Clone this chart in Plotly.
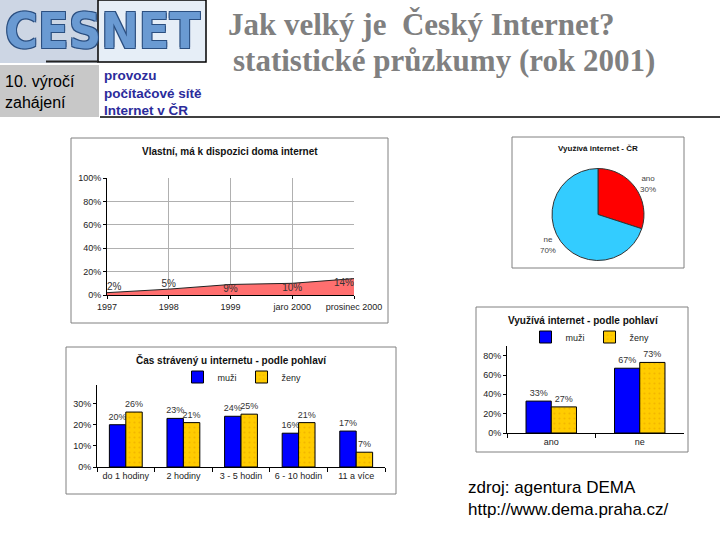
import plotly.graph_objects as go

W, H = 720, 540
def px(x): return x / W
def py(y): return 1 - y / H

# ---------------- data ----------------
own_years = ["1997", "1998", "1999", "jaro 2000", "prosinec 2000"]
own_values = [2, 5, 9, 10, 14]

pie_labels = ["ano", "ne"]
pie_values = [30, 70]

use_cats = ["ano", "ne"]
use_men = [33, 67]
use_women = [27, 73]

time_cats = ["do 1 hodiny", "2 hodiny", "3 - 5 hodin", "6 - 10 hodin", "11 a více"]
time_men = [20, 23, 24, 16, 17]
time_women = [26, 21, 25, 21, 7]

y_ticks_use = [0, 20, 40, 60, 80]
y_ticks_time = [0, 10, 20, 30]

BLUE = "#0000FF"
GOLD = "#FFCC00"
FONT = "Liberation Sans, Arial, sans-serif"

fig = go.Figure()

# ---------- chart 1: area ----------
fig.add_trace(go.Scatter(
    x=own_years, y=own_values, mode="lines", fill="tozeroy",
    fillcolor="#FF6F6F", line=dict(color="#222222", width=1),
    xaxis="x", yaxis="y", showlegend=False, hoverinfo="skip"))
fig.add_trace(go.Scatter(
    x=own_years, y=own_values, mode="text",
    text=[f"{v}%" for v in own_values],
    textposition=["top right", "top center", "bottom center", "bottom center", "bottom left"],
    textfont=dict(size=10, color="#333333", family=FONT),
    xaxis="x", yaxis="y", showlegend=False, cliponaxis=False, hoverinfo="skip"))

# ---------- chart 2: pie ----------
fig.add_trace(go.Pie(
    labels=pie_labels, values=pie_values, sort=False, direction="clockwise",
    rotation=0, marker=dict(colors=["#FF0000", "#33CCFF"], line=dict(color="#333333", width=1)),
    texttemplate="%{label}<br>%{percent:.0%}",
    textposition="outside", textfont=dict(size=8, color="#444444", family=FONT),
    domain=dict(x=[px(552), px(644)], y=[py(261), py(168)]), automargin=False,
    showlegend=False, hoverinfo="skip"))

def bars(x, y, name, color, xa, ya, leg):
    mk = dict(color=color, line=dict(color="#000", width=1))
    if color == GOLD:
        mk["pattern"] = dict(shape=".", fgcolor="#E8A000", size=5, solidity=0.15)
    return go.Bar(x=x, y=y, name=name, marker=mk,
                  text=[f"{v}%" for v in y], textposition="outside", cliponaxis=False,
                  constraintext="none",
                  textfont=dict(size=9, color="#333", family=FONT),
                  xaxis=xa, yaxis=ya, legend=leg, hoverinfo="skip")

fig.add_trace(bars(use_cats, use_men, "muži", BLUE, "x3", "y3", "legend2"))
fig.add_trace(bars(use_cats, use_women, "ženy", GOLD, "x3", "y3", "legend2"))
fig.add_trace(bars(time_cats, time_men, "muži", BLUE, "x4", "y4", "legend"))
fig.add_trace(bars(time_cats, time_women, "ženy", GOLD, "x4", "y4", "legend"))

tickf = dict(size=9, color="#222", family=FONT)
common = dict(automargin=False, tickangle=0, tickfont=tickf, tickcolor="#000", fixedrange=True)

layout = dict(
    width=W, height=H, margin=dict(l=0, r=0, t=0, b=0, pad=0), autosize=False,
    paper_bgcolor="white", plot_bgcolor="rgba(0,0,0,0)",
    font=dict(family=FONT), barmode="group",
    # chart 1
    xaxis=dict(domain=[px(107), px(354)], anchor="y", type="category", range=[0, 4],
               showgrid=True, gridcolor="#B0B0B0", gridwidth=1, showline=True, linecolor="#000",
               ticks="outside", ticklen=3, **common),
    yaxis=dict(domain=[py(295), py(178)], anchor="x", range=[0, 100], dtick=20, ticksuffix="%",
               showgrid=True, gridcolor="#B0B0B0", gridwidth=1, showline=True, linecolor="#000",
               ticks="outside", ticklen=3, zeroline=False, **common),
    # chart 3
    xaxis3=dict(domain=[px(507), px(684)], anchor="y3", type="category", showgrid=False,
                showline=True, linecolor="#000", ticks="outside", tickson="boundaries", ticklen=4,
                **common),
    yaxis3=dict(domain=[py(433), py(346)], anchor="x3", range=[0, 90], tickmode="array",
                tickvals=y_ticks_use, ticktext=[f"{v}%" for v in y_ticks_use],
                showgrid=False, showline=True, linecolor="#000", ticks="outside",
                ticklen=3, zeroline=False, **common),
    bargap=0.43, bargroupgap=0,
    # chart 4
    xaxis4=dict(domain=[px(97), px(385)], anchor="y4", type="category", showgrid=False,
                showline=True, linecolor="#000", ticks="outside", tickson="boundaries", ticklen=4,
                **common),
    yaxis4=dict(domain=[py(467), py(385)], anchor="x4", range=[0, 38.8], tickmode="array",
                tickvals=y_ticks_time, ticktext=[f"{v}%" for v in y_ticks_time],
                showgrid=False, showline=True, linecolor="#000", ticks="outside",
                ticklen=3, zeroline=False, **common),
    legend=dict(orientation="h", x=px(242), y=py(377), xanchor="center", yanchor="middle",
                font=dict(size=9, color="#222", family=FONT), bgcolor="rgba(0,0,0,0)",
                itemwidth=30, traceorder="normal"),
    legend2=dict(orientation="h", x=px(590), y=py(337), xanchor="center", yanchor="middle",
                 font=dict(size=9, color="#222", family=FONT), bgcolor="rgba(0,0,0,0)",
                 itemwidth=30, traceorder="normal"),
)
fig.update_layout(**layout)

shapes = []
def rect(x0, y0, x1, y1, line="#808080", fill="white", width=1, layer="below"):
    shapes.append(dict(type="rect", xref="paper", yref="paper", x0=px(x0), x1=px(x1),
                       y0=py(y1), y1=py(y0), line=dict(color=line, width=width),
                       fillcolor=fill, layer=layer))
def hline(x0, x1, y, color="#000", width=1):
    shapes.append(dict(type="line", xref="paper", yref="paper", x0=px(x0), x1=px(x1),
                       y0=py(y), y1=py(y), line=dict(color=color, width=width)))

# chart frames
rect(71, 138, 388, 323)
rect(512, 137, 684, 268)
rect(476, 307, 688, 452)
rect(66, 347, 396, 494)
# header
rect(0, 0, 98, 63, line="rgba(0,0,0,0)", fill="#CDD6E4")
rect(98, 0, 206, 62, line="#000", fill="#E6EEF7", width=1.5)
hline(46, 98, 61.5, color="#222", width=2)
rect(0, 65, 99, 117, line="rgba(0,0,0,0)", fill="#C8C8C8")
hline(100, 720, 117, color="#000", width=1.5)

ann = []
def text(x, y, s, size, color="#000", bold=False, family=FONT, xanchor="left", yanchor="middle",
         shadow=None, align="left"):
    f = dict(size=size, color=color, family=family, weight="bold" if bold else "normal")
    if shadow:
        f["shadow"] = shadow
    ann.append(dict(xref="paper", yref="paper", x=px(x), y=py(y), text=s, showarrow=False,
                    xanchor=xanchor, yanchor=yanchor, align=align, font=f))

text(103, 31, "CESNET", 50, color="#6A9AD2", bold=True, xanchor="center", align="center",
     family="DejaVu Sans Condensed, Liberation Sans Narrow, sans-serif",
     shadow="1px 1px 0px #2B4F80, -1px -1px 0px #2B4F80, 1px -1px 0px #2B4F80, -1px 1px 0px #2B4F80")
text(3, 92, "10. výročí<br>zahájení", 16)
text(102, 93, "provozu<br>počítačové sítě<br>Internet v ČR", 13.5, color="#2B2B9B", bold=True)
text(226, 25, "Jak velký je\u00a0\u00a0Český Internet?", 31, color="#808080", bold=True,
     family="Liberation Serif, Times New Roman, serif")
text(231, 60, "statistické průzkumy (rok 2001)", 31, color="#808080", bold=True,
     family="Liberation Serif, Times New Roman, serif")
text(466, 498, "zdroj: agentura DEMA<br>http://www.dema.praha.cz/", 17)

# chart titles
text(230, 151, "Vlastní, má k dispozici doma internet", 10, color="#111", bold=True, xanchor="center", align="center")
text(598, 148, "Využívá internet - ČR", 8, color="#111", bold=True, xanchor="center", align="center")
text(583, 320, "Využívá internet - podle pohlaví", 10, color="#111", bold=True, xanchor="center", align="center")
text(231, 360, "Čas strávený u internetu - podle pohlaví", 10, color="#111", bold=True, xanchor="center", align="center")

fig.update_layout(shapes=shapes, annotations=ann)
fig.write_html("out.html", config={"displayModeBar": False},
               post_script="document.body.style.margin='0';document.body.style.overflow='hidden';")
